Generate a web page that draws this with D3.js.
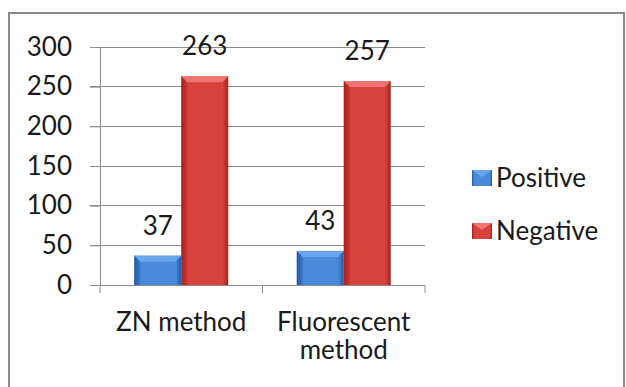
<!DOCTYPE html>
<html><head><meta charset="utf-8">
<script src="https://cdn.jsdelivr.net/npm/d3@7"></script>
<style>body{margin:0;background:#fff}svg{display:block}text{font-family:Lato,"Open Sans",sans-serif;fill:#1a1a1a}</style>
</head><body>
<svg id="c" width="626" height="387"></svg>
<script>
const categories = [["ZN method"], ["Fluorescent", "method"]];
const categoryKeys = ["ZN method", "Fluorescent method"];
const seriesNames = ["Positive", "Negative"];
const positiveValues = [37, 43];
const negativeValues = [263, 257];
const yTicks = [0, 50, 100, 150, 200, 250, 300];
const seriesColors = {Positive: ["#1f5aa6", "#4a8ad8", "#6aa6ec"], Negative: ["#a3221e", "#d8413c", "#ee7572"]};
const FS = 26;

const svg = d3.select("#c");
const defs = svg.append("defs");
seriesNames.forEach(s => {
  const [dark, mid, light] = seriesColors[s];
  const g = defs.append("linearGradient").attr("id", "g" + s).attr("x1", 0).attr("x2", 1).attr("y1", 0).attr("y2", 0);
  g.append("stop").attr("offset", 0).attr("stop-color", dark);
  g.append("stop").attr("offset", 0.12).attr("stop-color", mid);
  g.append("stop").attr("offset", 0.88).attr("stop-color", mid);
  g.append("stop").attr("offset", 1).attr("stop-color", dark);
});

// outer frame
svg.append("rect").attr("x", 9).attr("y", 13).attr("width", 615).attr("height", 390)
  .attr("fill", "#fff").attr("stroke", "#8a8a8a").attr("stroke-width", 2);

const y = d3.scaleLinear().domain([0, 300]).range([285, 47]);
const x0 = d3.scaleBand().domain(categoryKeys).range([100, 425]).paddingInner(0).paddingOuter(0);
const x1 = d3.scaleBand().domain(seriesNames).range([0, x0.bandwidth()]).paddingInner(0).paddingOuter(0.729);

// gridlines
svg.append("g").selectAll("line").data(yTicks.filter(d => d > 0)).join("line")
  .attr("x1", 90).attr("x2", 425).attr("y1", d => y(d)).attr("y2", d => y(d))
  .attr("stroke", "#8c8c8c").attr("stroke-width", 1).attr("shape-rendering", "crispEdges");

// y axis
const yAxis = svg.append("g").attr("transform", "translate(100,0)")
  .call(d3.axisLeft(y).tickValues(yTicks).tickSize(10).tickPadding(18));
yAxis.select(".domain").attr("stroke", "#8c8c8c");
yAxis.selectAll(".tick line").attr("stroke", "#8c8c8c");
yAxis.selectAll("text").attr("font-size", FS).attr("font-family", "Lato").attr("fill", "#1a1a1a");

// x axis
svg.append("line").attr("x1", 90).attr("x2", 425).attr("y1", y(0)).attr("y2", y(0))
  .attr("stroke", "#8c8c8c").attr("shape-rendering", "crispEdges");
svg.append("g").selectAll("line").data([100, 100 + x0.step(), 425]).join("line")
  .attr("x1", d => d).attr("x2", d => d).attr("y1", y(0)).attr("y2", y(0) + 8)
  .attr("stroke", "#8c8c8c");

const rows = categoryKeys.map((c, i) => ({cat: c, values: [
  {s: "Positive", v: positiveValues[i]}, {s: "Negative", v: negativeValues[i]}]}));

const groups = svg.append("g").selectAll("g").data(rows).join("g")
  .attr("transform", d => `translate(${x0(d.cat)},0)`);

const bars = groups.selectAll("g.bar").data(d => d.values).join("g").attr("class", "bar");
bars.append("rect")
  .attr("x", d => x1(d.s)).attr("width", x1.bandwidth())
  .attr("y", d => y(d.v)).attr("height", d => y(0) - y(d.v))
  .attr("fill", d => `url(#g${d.s})`);
// bevel top
bars.append("path")
  .attr("d", d => {
    const xa = x1(d.s), w = x1.bandwidth(), t = y(d.v), b = 6;
    return `M${xa},${t}L${xa + w},${t}L${xa + w - b},${t + b}L${xa + b},${t + b}Z`;
  })
  .attr("fill", d => seriesColors[d.s][2]);
bars.append("path")
  .attr("d", d => {
    const xa = x1(d.s), w = x1.bandwidth(), t = y(d.v), b = 6;
    return `M${xa},${t}L${xa + b},${t + b}L${xa + b},${y(0)}L${xa},${y(0)}Z`;
  })
  .attr("fill", d => seriesColors[d.s][0]).attr("opacity", 0.35);

// value labels
bars.append("text")
  .attr("x", d => x1(d.s) + x1.bandwidth() / 2)
  .attr("y", d => y(d.v) - 30)
  .attr("dy", "0.35em")
  .attr("text-anchor", "middle").attr("font-size", FS)
  .text(d => d.v);

// category labels
svg.append("g").selectAll("text").data(categoryKeys).join("text")
  .attr("text-anchor", "middle").attr("font-size", FS)
  .attr("x", d => x0(d) + x0.bandwidth() / 2)
  .each(function(d, i) {
    const t = d3.select(this);
    categories[i].forEach((line, j) => {
      t.append("tspan").attr("x", x0(d) + x0.bandwidth() / 2).attr("y", 322 + j * 28).attr("dy", "0.35em").text(line);
    });
  });

// legend
const legend = svg.append("g").selectAll("g").data(seriesNames).join("g")
  .attr("transform", (d, i) => `translate(472,${170 + i * 53})`);
legend.append("rect").attr("width", 20).attr("height", 16).attr("fill", d => `url(#g${d})`);
legend.append("path").attr("d", "M0,0L20,0L10,7Z").attr("fill", d => seriesColors[d][2]);
legend.append("text").attr("x", 24).attr("y", 8).attr("dy", "0.35em").attr("font-size", FS).text(d => d);
</script>
</body></html>
